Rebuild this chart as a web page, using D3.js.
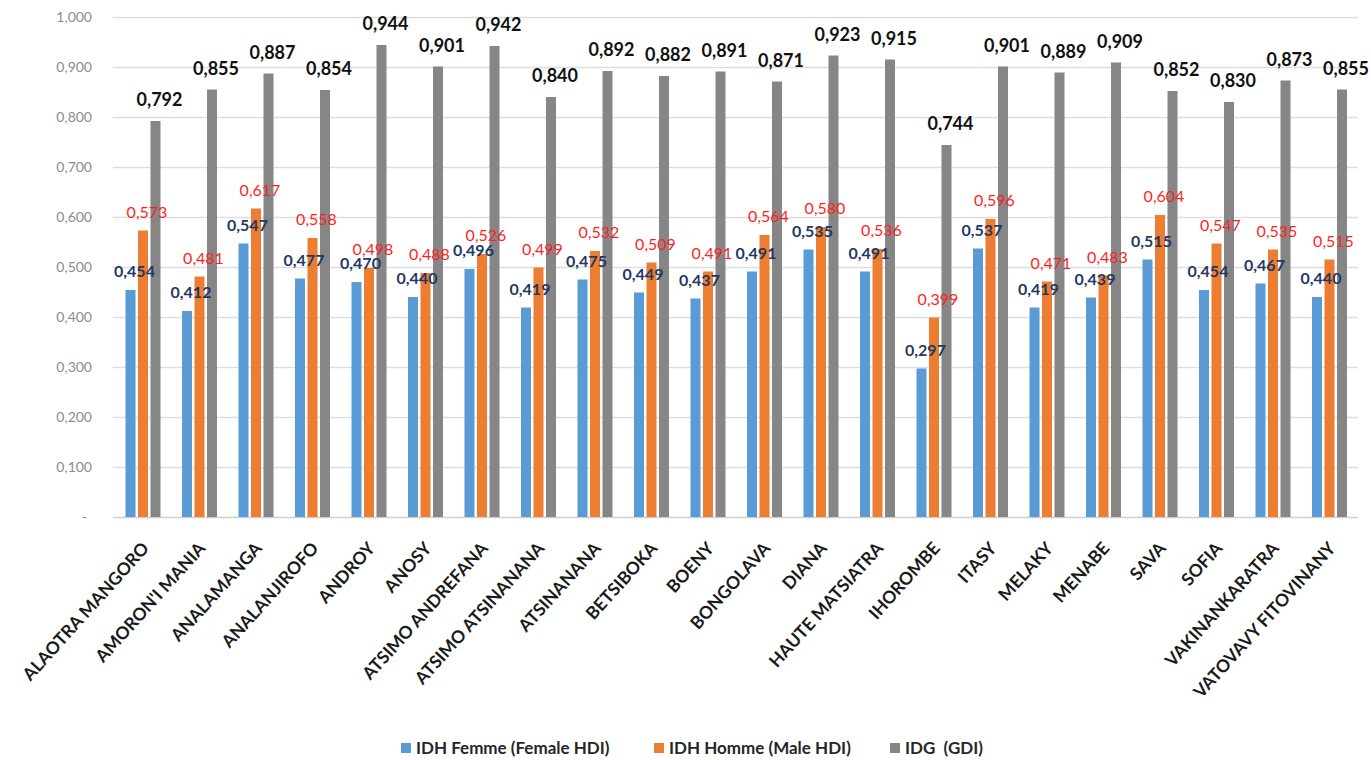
<!DOCTYPE html>
<html>
<head>
<meta charset="utf-8">
<script src="https://cdn.jsdelivr.net/npm/d3@7"></script>
<style>
  html, body { margin: 0; padding: 0; background: #ffffff; }
  svg { display: block; font-family: Lato, "Open Sans", "Liberation Sans", sans-serif; }
</style>
</head>
<body>
<svg id="chart" width="1371" height="760"></svg>
<script>
// Regions of Madagascar
const categories = ["ALAOTRA MANGORO", "AMORON'I MANIA", "ANALAMANGA", "ANALANJIROFO", "ANDROY", "ANOSY",
  "ATSIMO ANDREFANA", "ATSIMO ATSINANANA", "ATSINANANA", "BETSIBOKA", "BOENY", "BONGOLAVA", "DIANA",
  "HAUTE MATSIATRA", "IHOROMBE", "ITASY", "MELAKY", "MENABE", "SAVA", "SOFIA", "VAKINANKARATRA",
  "VATOVAVY FITOVINANY"];

// IDH Femme (Female HDI)
const femaleHDI = [0.454, 0.412, 0.547, 0.477, 0.470, 0.440, 0.496, 0.419, 0.475, 0.449, 0.437,
  0.491, 0.535, 0.491, 0.297, 0.537, 0.419, 0.439, 0.515, 0.454, 0.467, 0.440];

// IDH Homme (Male HDI)
const maleHDI = [0.573, 0.481, 0.617, 0.558, 0.498, 0.488, 0.526, 0.499, 0.532, 0.509, 0.491,
  0.564, 0.580, 0.536, 0.399, 0.596, 0.471, 0.483, 0.604, 0.547, 0.535, 0.515];

// IDG (GDI)
const gdi = [0.792, 0.855, 0.887, 0.854, 0.944, 0.901, 0.942, 0.840, 0.892, 0.882, 0.891,
  0.871, 0.923, 0.915, 0.744, 0.901, 0.889, 0.909, 0.852, 0.830, 0.873, 0.855];

const seriesNames = ["IDH Femme (Female HDI)", "IDH Homme (Male HDI)", "IDG  (GDI)"];
const yTicks = [0, 0.1, 0.2, 0.3, 0.4, 0.5, 0.6, 0.7, 0.8, 0.9, 1.0];

const series = [
  { key: "f", name: seriesNames[0], values: femaleHDI, fill: "#5b9bd5", label: "#1f3864", weight: 700, size: 16, off: 13 },
  { key: "m", name: seriesNames[1], values: maleHDI, fill: "#ed7d31", label: "#ff1f1f", weight: 400, size: 16, off: 13 },
  { key: "g", name: seriesNames[2], values: gdi, fill: "#868686", label: "#111111", weight: 700, size: 18, off: 15 }
];

const svg = d3.select("#chart");
const plot = { left: 114.75, right: 1357.75, top: 17, bottom: 517 };
const legendX = [401, 654, 890];

const fmt = v => v === 0 ? "-" : d3.format(".3f")(v).replace(".", ",");

const x = d3.scaleBand().domain(categories).range([plot.left, plot.right]).paddingInner(0).paddingOuter(0);
const inner = d3.scaleBand().domain(series.map(s => s.key)).range([x.bandwidth() / 2 - 17.5, x.bandwidth() / 2 + 17.5]).paddingInner(0.2).paddingOuter(0);
const y = d3.scaleLinear().domain([0, 1]).range([plot.bottom, plot.top]);

// Horizontal gridlines
svg.append("g").selectAll("line").data(yTicks).join("line")
  .attr("x1", plot.left - 2).attr("x2", plot.right)
  .attr("y1", d => Math.round(y(d)) + 0.5).attr("y2", d => Math.round(y(d)) + 0.5)
  .attr("stroke", d => d === 0 ? "#d0d0d0" : "#dedede").attr("stroke-width", 1.3);

// Y axis labels
const yAxis = d3.axisLeft(y).tickValues(yTicks).tickFormat(fmt).tickSize(0).tickPadding(0);
const ya = svg.append("g").attr("transform", `translate(92,0)`).call(yAxis);
ya.select(".domain").remove();
ya.selectAll("text").attr("fill", "#8c8c8c").attr("font-size", 14).attr("font-family", "Lato, sans-serif")
  .attr("dx", d => d === 0 ? -5 : 0);

// Bars
const groups = svg.append("g").selectAll("g").data(categories).join("g")
  .attr("transform", d => `translate(${x(d)},0)`);

series.forEach(s => {
  groups.append("rect")
    .attr("x", (d, i) => inner(s.key))
    .attr("width", inner.bandwidth())
    .attr("y", (d, i) => y(s.values[i]))
    .attr("height", (d, i) => y(0) - y(s.values[i]))
    .attr("fill", s.fill);
});

// Value labels
series.forEach(s => {
  groups.append("text")
    .attr("x", (d, i) => inner(s.key) + inner.bandwidth() / 2 + 4)
    .attr("y", (d, i) => y(s.values[i]) - s.off)
    .attr("text-anchor", "middle")
    .attr("font-size", s.size)
    .attr("font-weight", s.weight)
    .attr("fill", s.label)
    .text((d, i) => fmt(s.values[i]));
});

// Category labels
svg.append("g").selectAll("text").data(categories).join("text")
  .attr("transform", d => `translate(${x(d) + x.bandwidth() / 2 + 7},${549}) rotate(-48)`)
  .attr("text-anchor", "end")
  .attr("font-size", 17.5)
  .attr("font-weight", 700)
  .attr("fill", "#1a1a1a")
  .text(d => d);

// Legend
const legend = svg.append("g").attr("transform", "translate(0,748)");
series.forEach((s, i) => {
  const g = legend.append("g").attr("transform", `translate(${legendX[i]},0)`);
  g.append("rect").attr("x", 0).attr("y", -5).attr("width", 10).attr("height", 10).attr("fill", s.fill);
  g.append("text").attr("x", 15).attr("y", 0).attr("dy", "0.35em")
    .attr("font-size", 17).attr("font-weight", 700).attr("fill", "#262626")
    .style("white-space", "pre").text(s.name);
});
</script>
</body>
</html>
